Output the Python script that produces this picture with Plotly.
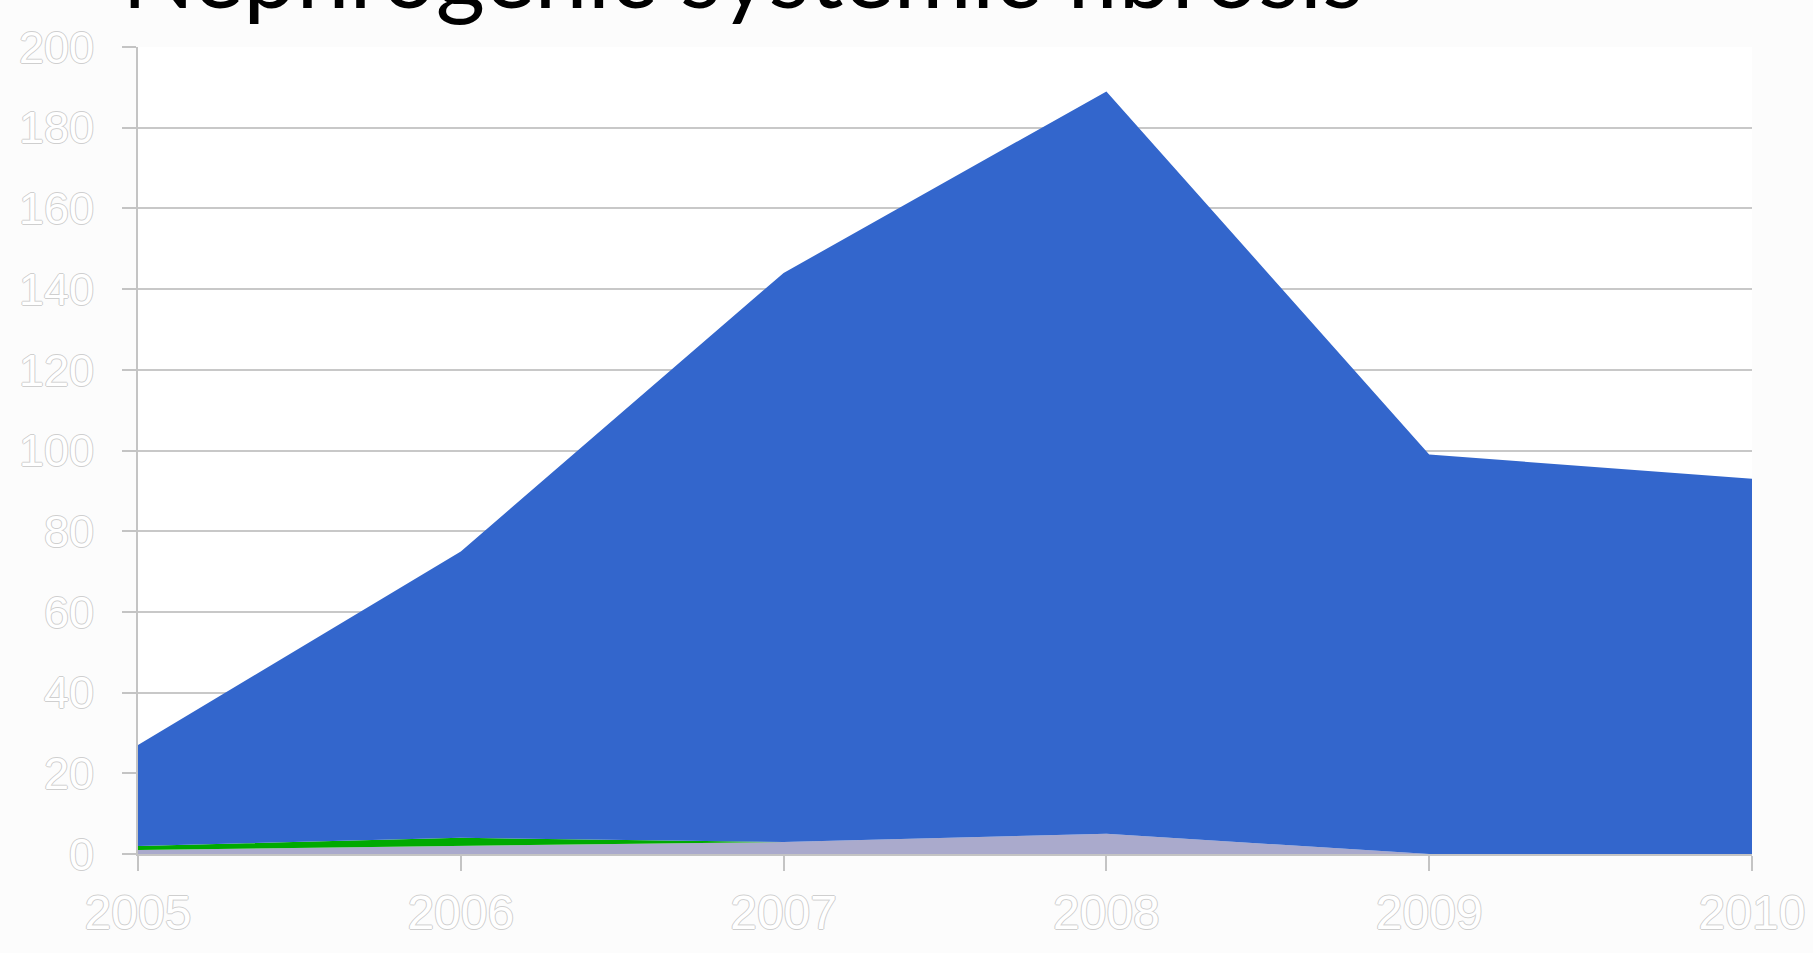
import plotly.graph_objects as go

years = [2005, 2006, 2007, 2008, 2009, 2010]
# stacked from bottom to top
lavender_vals = [1, 2, 3, 5, 0, 0]
green_vals = [1, 2, 0, 0, 0, 0]
blue_vals = [25, 71, 141, 184, 99, 93]

y_ticks = list(range(0, 201, 20))
title_text = "Nephrogenic systemic fibrosis"

# thin grey outline round white digits
outline = "1px 0 0 #cfcfcf, -1px 0 0 #cfcfcf, 0 1px 0 #cfcfcf, 0 -1px 0 #cfcfcf"

fig = go.Figure()
series = [
    ("Lavender", lavender_vals, "#aaaacc"),
    ("Green", green_vals, "#00aa00"),
    ("Blue", blue_vals, "#3366cc"),
]
for name, vals, col in series:
    fig.add_trace(go.Scatter(
        x=years, y=vals, name=name, mode="lines",
        stackgroup="one", line=dict(width=0, color=col),
        fillcolor=col,
    ))

fig.update_layout(
    width=1813, height=953,
    margin=dict(l=138, r=61, t=47, b=99),
    paper_bgcolor="#fcfcfc",
    plot_bgcolor="white",
    showlegend=False,
    font=dict(family="Liberation Sans, Arial, sans-serif"),
)

fig.update_xaxes(
    range=[2005, 2010], tickvals=years, ticktext=[str(y) for y in years],
    showgrid=False, showline=True, linecolor="#c4c4c4", linewidth=2,
    ticks="outside", ticklen=15, tickwidth=2, tickcolor="#c4c4c4",
    tickfont=dict(size=48, color="#ffffff", shadow=outline),
    ticklabelstandoff=0, automargin=False,
    zeroline=False,
)
fig.update_yaxes(
    range=[0, 200], tickvals=y_ticks,
    showgrid=True, gridcolor="#c8c8c8", gridwidth=2,
    showline=True, linecolor="#c4c4c4", linewidth=2,
    ticks="outside", ticklen=14, tickwidth=2, tickcolor="#c4c4c4",
    tickfont=dict(size=45, color="#ffffff", shadow=outline),
    ticklabelstandoff=19, automargin=False,
    zeroline=False,
)

# title sits mostly above the top edge, as in the source slide
fig.add_annotation(
    text=title_text, xref="paper", yref="paper",
    x=-0.011, y=1.094, xanchor="left", yanchor="middle",
    showarrow=False,
    font=dict(family="Lato, sans-serif", size=95, color="black"),
)

# drop the default page margin so the figure fills the window
fig.write_html("out.html", config={"displayModeBar": False},
               post_script="document.body.style.margin='0';")
